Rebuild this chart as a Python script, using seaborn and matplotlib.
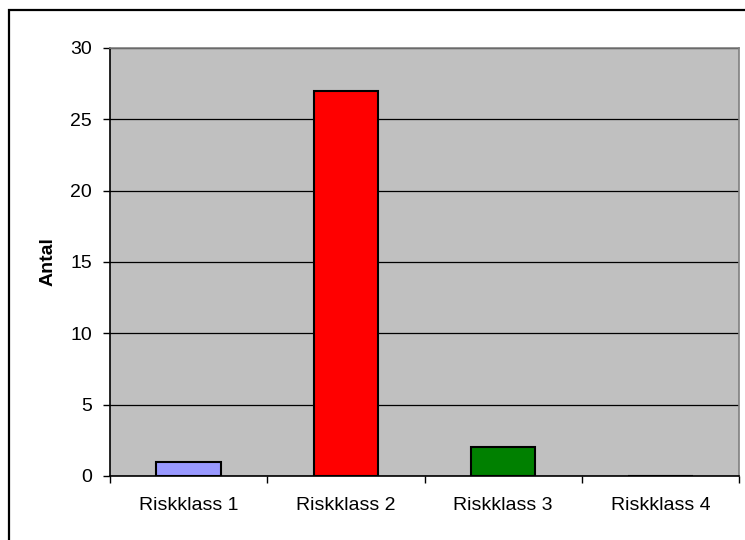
import matplotlib
matplotlib.use("Agg")
import matplotlib.pyplot as plt
import matplotlib.patches as mpatches
import seaborn as sns
import pandas as pd

# Number of objects per risk class
categories = ["Riskklass 1", "Riskklass 2", "Riskklass 3", "Riskklass 4"]
counts = [1, 27, 2, 0]
bar_colors = ["#9999FF", "#FF0000", "#008000", "#FFFF00"]
y_ticks = [0, 5, 10, 15, 20, 25, 30]

sns.set_style("white")
plt.rcParams["font.family"] = ["Liberation Sans", "DejaVu Sans"]
plt.rcParams["text.color"] = "black"
plt.rcParams["axes.labelcolor"] = "black"
plt.rcParams["xtick.color"] = "black"
plt.rcParams["ytick.color"] = "black"

W, H = 745, 540
fig = plt.figure(figsize=(W / 100, H / 100), dpi=100)
left, right, top, bottom = 110, 739, 48, 476
ax = fig.add_axes([left / W, 1 - bottom / H, (right - left) / W, (bottom - top) / H])

df = pd.DataFrame({"Riskklass": categories, "Antal": counts})
sns.barplot(data=df, x="Riskklass", y="Antal", hue="Riskklass", order=categories,
            palette=dict(zip(categories, bar_colors)), legend=False, saturation=1,
            width=0.41, edgecolor="black", linewidth=1.5, ax=ax, zorder=3)

ax.set_facecolor("#C0C0C0")
ax.set_ylim(0, 30)
ax.set_xlim(-0.5, len(categories) - 0.5)
ax.set_yticks(y_ticks)
ax.yaxis.grid(True, color="black", linewidth=0.9)
ax.set_axisbelow(True)

# category boundaries carry the tick marks, centers carry the labels
ax.set_xticks([i - 0.5 for i in range(len(categories) + 1)])
ax.set_xticklabels([])
ax.set_xticks(range(len(categories)), minor=True)
ax.set_xticklabels(categories, minor=True)
ax.tick_params(axis="x", which="major", length=5, width=1, color="black", direction="out", bottom=True)
ax.tick_params(axis="x", which="minor", length=0, pad=15, labelsize=14)
ax.tick_params(axis="y", length=5, width=1, color="black", direction="out", left=True, pad=8, labelsize=14)

for s in ["left", "bottom"]:
    ax.spines[s].set_color("black")
    ax.spines[s].set_linewidth(1.2)
for s in ["top", "right"]:
    ax.spines[s].set_visible(True)
    ax.spines[s].set_color("#808080")
    ax.spines[s].set_linewidth(1.2)

ax.set_xlabel("")
ax.set_ylabel("Antal", fontsize=14, fontweight="bold", labelpad=10)

# chart frame
frame = mpatches.Rectangle((9 / W, -0.1), 1.2, 1 - 10 / H + 0.1, transform=fig.transFigure,
                           fill=False, edgecolor="black", linewidth=1.6)
fig.patches.append(frame)

fig.savefig("out.png", dpi=100)
